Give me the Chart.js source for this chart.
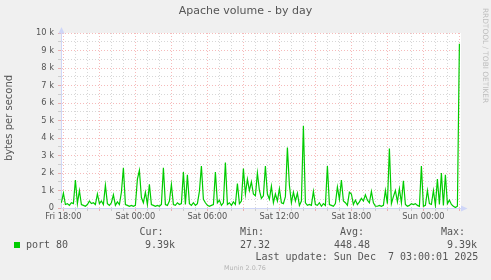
<!DOCTYPE html>
<html>
<head>
<meta charset="utf-8">
<script src="https://cdn.jsdelivr.net/npm/chart.js@4.4.1/dist/chart.umd.min.js"></script>
<style>
html, body { margin: 0; padding: 0; background: #f0f0f0; }
canvas { display: block; }
</style>
</head>
<body>
<canvas id="munin" width="491" height="280"></canvas>
<script>
// port 80 traffic, one reading every 10 minutes, first one at Fri 17:50
var startMinute = -10; // minutes after Fri 18:00
var stepMinutes = 10;
var port80 = [
  300, 850, 200, 250, 150, 300, 250, 1600, 250, 1000,
  200, 150, 100, 200, 400, 250, 300, 200, 800, 250,
  400, 200, 1300, 250, 150, 300, 750, 150, 350, 200,
  900, 2300, 200, 150, 100, 150, 100, 150, 1650, 2150,
  600, 300, 900, 200, 1350, 200, 150, 100, 150, 100,
  200, 2300, 200, 150, 400, 1350, 200, 150, 300, 200,
  250, 2050, 200, 1900, 250, 150, 300, 150, 250, 950,
  2400, 500, 300, 150, 100, 150, 200, 2050, 300, 450,
  150, 300, 2600, 200, 300, 150, 350, 200, 1400, 250,
  400, 2250, 800, 1650, 1000, 1500, 800, 700, 2000, 1000,
  550, 700, 2400, 800, 500, 1250, 300, 800, 400, 1100,
  300, 250, 650, 3450, 1300, 300, 900, 400, 850, 150,
  400, 4700, 300, 150, 200, 150, 950, 200, 150, 300,
  100, 250, 150, 2400, 200, 150, 100, 250, 1200, 500,
  1600, 400, 300, 150, 900, 800, 200, 450, 200, 350,
  550, 400, 750, 450, 300, 950, 300, 100, 100, 150,
  100, 150, 1000, 250, 3400, 250, 650, 1000, 350, 1100,
  300, 1550, 200, 100, 150, 250, 200, 250, 150, 100,
  2400, 100, 150, 1000, 250, 200, 1000, 150, 1650, 200,
  2000, 150, 1900, 250, 450, 200, 100, 30, 100, 9390
];

var timeTicks = [0, 360, 720, 1080, 1440, 1800];
var timeLabels = ['Fri 18:00', 'Sat 00:00', 'Sat 06:00', 'Sat 12:00', 'Sat 18:00', 'Sun 00:00'];
var yLabels = ['0', '1 k', '2 k', '3 k', '4 k', '5 k', '6 k', '7 k', '8 k', '9 k', '10 k'];
var legendHeads = ['Cur:', 'Min:', 'Avg:', 'Max:'];
var legendValues = ['9.39k', '27.32', '448.48', '9.39k'];

var majorGrid = 'rgba(223,0,0,0.27)';
var minorGrid = 'rgba(143,143,143,0.36)';
var axisColor = '#cfd6f8';
var fontColor = '#555';

var points = port80.map(function(v, i) {
    return { x: startMinute + i * stepMinutes, y: v };
});

var munin = {
    id: 'munin',
    beforeDraw: function(chart) {
        var c = chart.ctx, a = chart.chartArea;
        c.save();
        c.fillStyle = '#f0f0f0';
        c.fillRect(0, 0, chart.width, chart.height);
        c.fillStyle = '#ffffff';
        c.fillRect(a.left, a.top, a.right - a.left, a.bottom - a.top);
        c.restore();
    },
    afterDraw: function(chart) {
        var c = chart.ctx, a = chart.chartArea;
        c.save();
        // axis arrows
        c.strokeStyle = axisColor;
        c.fillStyle = axisColor;
        c.lineWidth = 1;
        c.beginPath();
        c.moveTo(a.left + 0.5, a.top);
        c.lineTo(a.left + 0.5, a.top - 4);
        c.moveTo(a.right, a.bottom + 0.5);
        c.lineTo(a.right + 4, a.bottom + 0.5);
        c.stroke();
        c.beginPath();
        c.moveTo(a.left - 2.5, a.top + 0.5);
        c.lineTo(a.left + 3.5, a.top + 0.5);
        c.lineTo(a.left + 0.5, a.top - 6);
        c.fill();
        c.beginPath();
        c.moveTo(a.right, a.bottom - 2.5);
        c.lineTo(a.right, a.bottom + 3.5);
        c.lineTo(a.right + 6.5, a.bottom + 0.5);
        c.fill();

        c.fillStyle = fontColor;
        c.textBaseline = 'middle';
        c.textAlign = 'center';
        c.font = '11px "DejaVu Sans"';
        c.fillText('Apache volume - by day', 245.5, 11.5);

        c.save();
        c.translate(9.5, 118);
        c.rotate(-Math.PI / 2);
        c.font = '10px "DejaVu Sans"';
        c.fillText('bytes per second', 0, 0);
        c.restore();

        c.save();
        c.translate(485, 55.5);
        c.rotate(Math.PI / 2);
        c.fillStyle = '#bdbdbd';
        c.font = '7.4px "DejaVu Sans"';
        c.fillText('RRDTOOL / TOBI OETIKER', 0, 0);
        c.restore();

        // legend block
        c.textAlign = 'left';
        c.font = '10px "DejaVu Sans Mono"';
        var headX = [139.5, 240, 340, 441];
        var valX = [145, 240, 334, 447];
        for (var i = 0; i < legendHeads.length; i++) {
            c.fillText(legendHeads[i], headX[i], 232.5);
            c.fillText(legendValues[i], valX[i], 245);
        }
        c.fillText('port 80', 26, 245);
        c.fillText('Last update: Sun Dec  7 03:00:01 2025', 255.5, 257);
        c.fillStyle = '#00cc00';
        c.fillRect(14, 242, 6, 6);

        c.textAlign = 'center';
        c.fillStyle = '#b4b4b4';
        c.font = '6.4px "DejaVu Sans"';
        c.fillText('Munin 2.0.76', 245, 268.5);
        c.restore();
    }
};

var ctx = document.getElementById('munin');
var chart = new Chart(ctx, {
    type: 'line',
    data: {
        datasets: [{
            label: 'port 80',
            data: points,
            borderColor: '#00cc00',
            borderWidth: 1.2,
            pointRadius: 0,
            tension: 0,
            fill: false
        }]
    },
    options: {
        responsive: false,
        animation: false,
        devicePixelRatio: 1,
        layout: { padding: { top: 33, right: 30, left: 0, bottom: 0 } },
        plugins: {
            legend: { display: false },
            tooltip: { enabled: false }
        },
        scales: {
            x: {
                type: 'linear',
                min: -12,
                max: 1988,
                afterBuildTicks: function(scale) {
                    var t = [];
                    for (var m = 0; m <= 1980; m += 60) t.push({ value: m });
                    scale.ticks = t;
                },
                afterFit: function(scale) { scale.height = 72; },
                ticks: {
                    autoSkip: false,
                    maxRotation: 0,
                    padding: 1,
                    color: fontColor,
                    font: { family: 'DejaVu Sans', size: 8.25 },
                    callback: function(v) {
                        var k = timeTicks.indexOf(v);
                        return k < 0 ? '' : timeLabels[k];
                    }
                },
                grid: {
                    tickLength: 3,
                    color: function(c) { return c.tick && c.tick.value % 180 === 0 ? majorGrid : minorGrid; },
                    tickColor: function(c) { return c.tick && c.tick.value % 180 === 0 ? majorGrid : minorGrid; }
                },
                border: { color: axisColor, dash: [1, 2] }
            },
            y: {
                min: 0,
                max: 10000,
                afterBuildTicks: function(scale) {
                    var t = [];
                    for (var v = 0; v <= 10000; v += 500) t.push({ value: v });
                    scale.ticks = t;
                },
                afterFit: function(scale) { scale.width = 61; },
                ticks: {
                    autoSkip: false,
                    padding: 4,
                    color: fontColor,
                    font: { family: 'DejaVu Sans', size: 8.25 },
                    callback: function(v) {
                        return v % 1000 === 0 ? yLabels[v / 1000] : '';
                    }
                },
                grid: {
                    tickLength: 3,
                    color: function(c) {
                        if (!c.tick || c.tick.value === 0) return 'rgba(0,0,0,0)';
                        return c.tick.value % 1000 === 0 ? majorGrid : minorGrid;
                    },
                    tickColor: function(c) { return c.tick && c.tick.value % 1000 === 0 ? majorGrid : minorGrid; }
                },
                border: { color: axisColor, dash: [1, 2] }
            }
        }
    },
    plugins: [munin]
});
</script>
</body>
</html>
